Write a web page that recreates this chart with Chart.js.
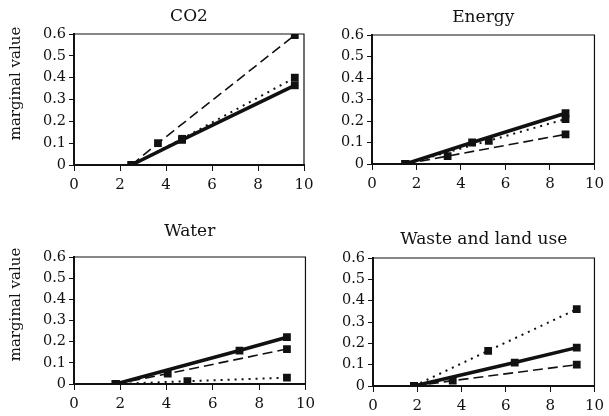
<!DOCTYPE html>
<html>
<head>
<meta charset="utf-8">
<script src="https://cdn.jsdelivr.net/npm/chart.js@4/dist/chart.umd.min.js"></script>
<style>
  body { margin: 0; background: #fff; width: 609px; height: 416px; position: relative; overflow: hidden; }
  canvas { position: absolute; }
</style>
</head>
<body>
<canvas id="co2" width="320" height="205" style="left:0;top:0"></canvas>
<canvas id="energy" width="289" height="205" style="left:320px;top:0"></canvas>
<canvas id="water" width="320" height="206" style="left:0;top:210px"></canvas>
<canvas id="waste" width="289" height="206" style="left:320px;top:210px"></canvas>
<script>
const panelTitles = ["CO2", "Energy", "Water", "Waste and land use"];
const yAxisTitle = "marginal value";
const xTicks = [0, 2, 4, 6, 8, 10];
const yTicks = [0, 0.1, 0.2, 0.3, 0.4, 0.5, 0.6];

// CO2
const co2SolidX = [2.5, 4.7, 9.6];
const co2SolidY = [0, 0.115, 0.365];
const co2DottedX = [2.5, 4.7, 9.6];
const co2DottedY = [0, 0.12, 0.4];
const co2DashedX = [2.5, 3.65, 9.6];
const co2DashedY = [0, 0.1, 0.595];

// Energy
const energySolidX = [1.5, 4.5, 8.7];
const energySolidY = [0, 0.1, 0.236];
const energyDottedX = [1.5, 5.25, 8.7];
const energyDottedY = [0, 0.108, 0.209];
const energyDashedX = [1.5, 3.4, 8.7];
const energyDashedY = [0, 0.037, 0.138];

// Water
const waterSolidX = [1.8, 7.15, 9.2];
const waterSolidY = [0, 0.158, 0.221];
const waterDottedX = [1.8, 4.9, 9.2];
const waterDottedY = [0, 0.013, 0.03];
const waterDashedX = [1.8, 4.05, 9.2];
const waterDashedY = [0, 0.049, 0.165];

// Waste and land use
const wasteSolidX = [1.85, 6.4, 9.2];
const wasteSolidY = [0, 0.11, 0.18];
const wasteDottedX = [1.85, 5.2, 9.2];
const wasteDottedY = [0, 0.165, 0.36];
const wasteDashedX = [1.85, 3.6, 9.2];
const wasteDashedY = [0, 0.025, 0.1];

const INK = "#111";
const FONT = "'DejaVu Serif', serif";

function pts(xs, ys) {
  return xs.map((x, i) => ({ x: x, y: ys[i] }));
}

function series(xs, ys, kind) {
  const ds = {
    data: pts(xs, ys),
    borderColor: INK,
    backgroundColor: INK,
    pointStyle: "rect",
    pointRadius: 5.5,
    pointBorderWidth: 0,
    tension: 0,
  };
  if (kind === "solid") ds.borderWidth = 3.5;
  if (kind === "dashed") { ds.borderWidth = 1.6; ds.borderDash = [10, 5]; }
  if (kind === "dotted") { ds.borderWidth = 2; ds.borderDash = [2, 5]; }
  return ds;
}

// top + right frame lines, and the rotated y title on left panels
const framePlugin = {
  id: "frame",
  afterDraw(chart, args, opts) {
    const { ctx, chartArea: a } = chart;
    ctx.save();
    ctx.strokeStyle = INK;
    ctx.lineWidth = 1.2;
    ctx.beginPath();
    ctx.moveTo(a.left, a.top);
    ctx.lineTo(a.right, a.top);
    ctx.lineTo(a.right, a.bottom);
    ctx.stroke();
    if (opts.yTitle) {
      ctx.translate(16, (a.top + a.bottom) / 2 - 16);
      ctx.rotate(-Math.PI / 2);
      ctx.fillStyle = INK;
      ctx.font = "15px " + FONT;
      ctx.textAlign = "center";
      ctx.textBaseline = "middle";
      ctx.fillText(yAxisTitle, 0, 0);
    }
    ctx.restore();
  },
};

function makePanel(id, title, datasets, lay) {
  const ctx = document.getElementById(id).getContext("2d");
  return new Chart(ctx, {
    type: "line",
    data: { datasets: datasets },
    options: {
      responsive: false,
      animation: false,
      layout: { padding: { left: 0, right: lay.padR, top: 0, bottom: 0 } },
      plugins: {
        legend: { display: false },
        tooltip: { enabled: false },
        title: {
          display: true,
          text: title,
          fullSize: false,
          color: INK,
          font: { family: FONT, size: 17, weight: "normal", lineHeight: 1.2 },
          padding: { top: lay.tTop, bottom: lay.tBottom },
        },
        frame: { yTitle: lay.yTitle },
      },
      scales: {
        x: {
          type: "linear",
          min: xTicks[0],
          max: xTicks[xTicks.length - 1],
          afterFit: (s) => { s.height = lay.xH; },
          afterBuildTicks: (s) => { s.ticks = xTicks.map((v) => ({ value: v })); },
          border: { display: true, color: INK, width: 2 },
          grid: { drawOnChartArea: false, drawTicks: true, tickLength: 6, color: INK, lineWidth: 1 },
          ticks: { color: INK, padding: 5, maxRotation: 0, font: { family: FONT, size: 15 } },
        },
        y: {
          type: "linear",
          min: yTicks[0],
          max: yTicks[yTicks.length - 1],
          afterFit: (s) => { s.width = lay.yW; },
          afterBuildTicks: (s) => { s.ticks = yTicks.map((v) => ({ value: v })); },
          border: { display: true, color: INK, width: 2 },
          grid: { drawOnChartArea: false, drawTicks: true, tickLength: 5, color: INK, lineWidth: 1 },
          ticks: {
            color: INK,
            padding: 3,
            font: { family: FONT, size: 14.5 },
            callback: (v) => (v === 0 ? "0" : v.toFixed(1)),
          },
        },
      },
    },
    plugins: [framePlugin],
  });
}

makePanel("co2", panelTitles[0], [
  series(co2DottedX, co2DottedY, "dotted"),
  series(co2DashedX, co2DashedY, "dashed"),
  series(co2SolidX, co2SolidY, "solid"),
], { padR: 16, yW: 74, xH: 40, tTop: 6.5, tBottom: 7.1, yTitle: true });

makePanel("energy", panelTitles[1], [
  series(energyDottedX, energyDottedY, "dotted"),
  series(energyDashedX, energyDashedY, "dashed"),
  series(energySolidX, energySolidY, "solid"),
], { padR: 13, yW: 52, xH: 41, tTop: 7, tBottom: 7.6, yTitle: false });

makePanel("water", panelTitles[2], [
  series(waterDottedX, waterDottedY, "dotted"),
  series(waterDashedX, waterDashedY, "dashed"),
  series(waterSolidX, waterSolidY, "solid"),
], { padR: 6, yW: 74, xH: 32, tTop: 11.8, tBottom: 14.8, yTitle: true });

makePanel("waste", panelTitles[3], [
  series(wasteDottedX, wasteDottedY, "dotted"),
  series(wasteDashedX, wasteDashedY, "dashed"),
  series(wasteSolidX, wasteSolidY, "solid"),
], { padR: 6, yW: 53, xH: 30, tTop: 19.8, tBottom: 7.8, yTitle: false });
</script>
</body>
</html>
